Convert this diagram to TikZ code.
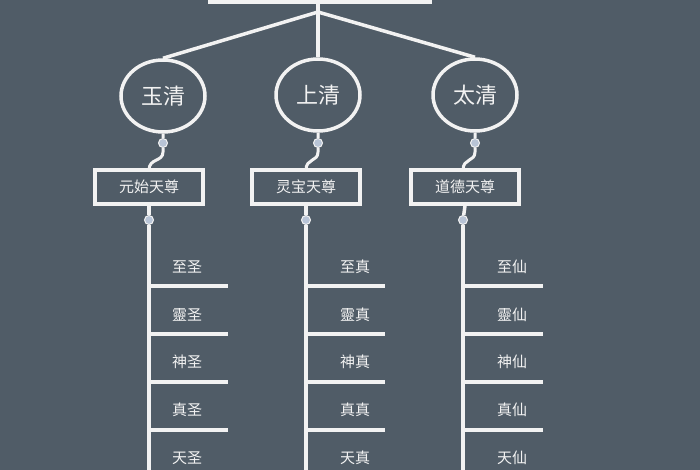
\documentclass[tikz,border=0pt]{standalone}
\usepackage{fontspec}
\usetikzlibrary{shapes.geometric}
\setmainfont{Noto Sans CJK SC}
\definecolor{bg}{HTML}{505C67}
\definecolor{fg}{HTML}{F2F2F2}
\definecolor{knob}{HTML}{B8C4D6}
\begin{document}
\begin{tikzpicture}[x=1pt,y=-1pt,
  ln/.style={draw=fg,line width=3.5pt},
  oval/.style={draw=fg,line width=3.5pt,ellipse,minimum width=84,minimum height=72,text=fg,font=\fontsize{22}{24}\selectfont,inner sep=0pt},
  god/.style={draw=fg,line width=3.5pt,minimum width=108,minimum height=34,text=fg,font=\fontsize{15}{17}\selectfont,inner sep=0pt},
  lab/.style={text=fg,font=\fontsize{15}{17}\selectfont},
  knb/.style={circle,fill=knob,draw=fg,line width=1pt,minimum size=9,inner sep=0pt}]
\fill[bg] (0,0) rectangle (700,470);
\useasboundingbox (0,0) rectangle (700,470);
\node[draw=fg,line width=3.5pt,minimum width=220,minimum height=20] (root) at (320,-8) {};
\coordinate (hub) at (318,12);
\draw[ln] (318,2) -- (hub);
\node[oval] (o1) at (163,96) {玉清};
\node[oval] (o2) at (318,95) {上清};
\node[oval] (o3) at (475,95) {太清};
\draw[ln] (hub) -- (o1.north);
\draw[ln] (hub) -- (o2.north);
\draw[ln] (hub) -- (o3.north);
\node[god] (g1) at (149,187) {元始天尊};
\node[god] (g2) at (306,187) {灵宝天尊};
\node[god] (g3) at (465,187) {道德天尊};
\foreach \i/\gx/\ox/\tx/\lx/\a/\b/\c/\d/\e in {
 1/149/163/228/187/至圣/靈圣/神圣/真圣/天圣,
 2/306/318/385/355/至真/靈真/神真/真真/天真,
 3/463/475/543/512/至仙/靈仙/神仙/真仙/天仙}{
  \node[knb] (k\i) at (\ox,143) {};
  \draw[fg,line width=3pt] (o\i.south) -- (k\i) -- (\ox,152) .. controls (\ox,162) and (\gx,158) .. (\gx,170);
  \node[knb] (m\i) at (\gx,220) {};
  \draw[ln] (g\i.south) -- (m\i);
  \coordinate (e\i) at (\gx,472);
  \draw[ln] (m\i) -- (e\i);
  \foreach \y in {286,334,382,430}{\coordinate (t\i\y) at (\tx,\y); \draw[ln] (\gx,\y) -- (t\i\y);}
  \node[lab] (l\i a) at (\lx,267) {\a};
  \node[lab] (l\i b) at (\lx,315) {\b};
  \node[lab] (l\i c) at (\lx,362) {\c};
  \node[lab] (l\i d) at (\lx,410) {\d};
  \node[lab] (l\i e) at (\lx,458) {\e};
}
\end{tikzpicture}
\end{document}
